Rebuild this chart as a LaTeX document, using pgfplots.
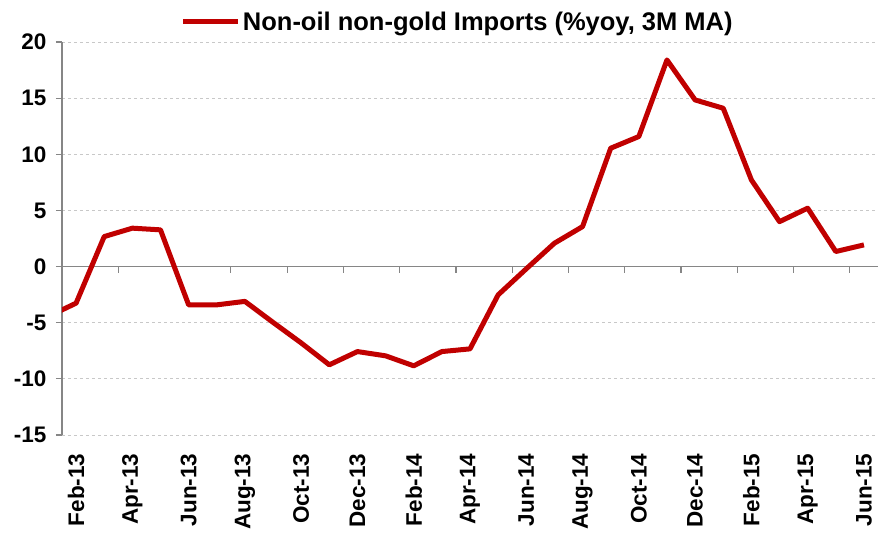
\documentclass[border=0pt]{standalone}
\usepackage{pgfplots}
\pgfplotsset{compat=1.18}
\usepackage{fontspec}
\setmainfont{Liberation Sans}
\definecolor{lineRed}{RGB}{192,0,0}
\definecolor{axGray}{RGB}{134,134,134}
\definecolor{gridGray}{RGB}{200,200,200}
\begin{document}
\begin{tikzpicture}[x=1pt,y=1pt]
\begin{axis}[
  at={(0,0)}, anchor=south west,
  scale only axis, width=816pt, height=393pt,
  xmin=-0.5, xmax=28.5, ymin=-15, ymax=20,
  axis x line=bottom, axis y line=left,
  x axis line style={draw=none,-},
  y axis line style={axGray, line width=1.2pt, -},
  xtick={0,2,...,28},
  xticklabels={Feb-13,Apr-13,Jun-13,Aug-13,Oct-13,Dec-13,Feb-14,Apr-14,Jun-14,Aug-14,Oct-14,Dec-14,Feb-15,Apr-15,Jun-15},
  x tick style={draw=none},
  xticklabel style={rotate=90, anchor=east, xshift=-9pt, font=\bfseries\fontsize{22.5}{22.5}\selectfont},
  ytick={-15,-10,...,20},
  y tick style={axGray, line width=1.2pt},
  tick align=outside, major tick length=6pt,
  yticklabel style={xshift=-6pt, font=\bfseries\fontsize{22.5}{22.5}\selectfont},
  /pgf/number format/assume math mode=true,
  ymajorgrids, grid style={gridGray, dashed, line width=0.8pt},
  legend style={at={(0.485,1.051)}, anchor=center, draw=none, fill=none,
    font=\bfseries\fontsize{25.5}{25.5}\selectfont},
  legend image code/.code={\draw[#1] (0pt,0pt) -- (55pt,0pt);},
]
\draw[axGray, line width=1.2pt] (axis cs:-0.5,0) -- (axis cs:28.5,0);
\pgfplotsinvokeforeach{1.5,3.5,5.5,7.5,9.5,11.5,13.5,15.5,17.5,19.5,21.5,23.5,25.5,27.5}{
  \draw[axGray, line width=1.2pt] (axis cs:#1,0) -- ++(0pt,-6pt);
}
\addplot[lineRed, line width=5pt, line join=round] coordinates {
(-1,-4.46) (0,-3.26) (1,2.67) (2,3.42) (3,3.27) (4,-3.41) (5,-3.41) (6,-3.1)
(7,-4.97) (8,-6.8) (9,-8.75) (10,-7.57) (11,-7.95) (12,-8.84) (13,-7.57)
(14,-7.33) (15,-2.52) (16,-0.2) (17,2.08) (18,3.56) (19,10.54) (20,11.58)
(21,18.4) (22,14.84) (23,14.1) (24,7.72) (25,4.0) (26,5.2) (27,1.34) (28,1.93)
};
\addlegendentry{Non-oil non-gold Imports (\%yoy, 3M MA)}
\end{axis}
\pgfresetboundingbox
\path (-62,-99) rectangle (823,435);
\end{tikzpicture}
\end{document}
